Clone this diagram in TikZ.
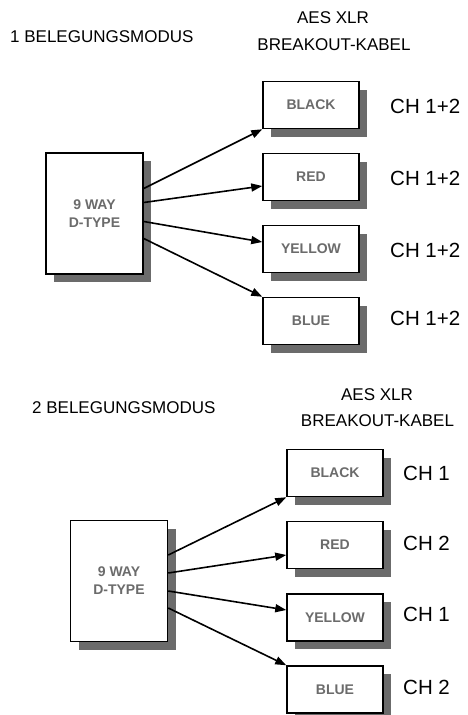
\documentclass[tikz,border=0pt]{standalone}
\usepackage{fontspec}
\setmainfont{Liberation Sans}
\usetikzlibrary{arrows.meta,shadows}

\tikzset{
  cable/.style={draw=black, line width=1.5pt, fill=white, minimum width=96pt, minimum height=47pt,
    inner sep=0pt, font=\fontsize{14}{16}\selectfont\bfseries, text=black!58,
    drop shadow={shadow xshift=8pt, shadow yshift=-8pt, fill=black!58, opacity=1}},
  dtype/.style={cable, minimum width=97pt, minimum height=121pt, align=center,
    font=\fontsize{14}{18}\selectfont\bfseries},
  title/.style={font=\fontsize{17}{20}\selectfont, inner sep=0pt},
  chan/.style={font=\fontsize{20.5}{24}\selectfont, inner sep=0pt, anchor=west},
  wire/.style={line width=1.6pt, -{Triangle[length=11pt,width=8pt]}}
}

\begin{document}
\begin{tikzpicture}[x=1pt,y=-1pt]
\useasboundingbox (0,0) rectangle (467,715);

% ---------- mode 1 ----------
\node[title, anchor=west] (t1) at (10,37) {1 BELEGUNGSMODUS};
\node[title] (h1a) at (333,18) {AES XLR};
\node[title] (h1b) at (334,45) {BREAKOUT-KABEL};

\node[dtype] (d1) at (94.5,213.5) {9 WAY\\D-TYPE};
\node[cable] (k1) at (311,105) {BLACK};
\node[cable] (r1) at (311,177) {RED};
\node[cable] (y1) at (311,249) {YELLOW};
\node[cable] (b1) at (311,321) {BLUE};

\node[chan] (c1k) at (390,106) {CH 1+2};
\node[chan] (c1r) at (390,178) {CH 1+2};
\node[chan] (c1y) at (390,250) {CH 1+2};
\node[chan] (c1b) at (390,318) {CH 1+2};

\draw[wire] ([yshift=25pt]d1.east) -- (k1.south west);
\draw[wire] ([yshift=11pt]d1.east) -- ([yshift=-9pt]r1.west);
\draw[wire] ([yshift=-8pt]d1.east) -- ([yshift=7pt]y1.west);
\draw[wire] ([yshift=-25pt]d1.east) -- (b1.north west);

% ---------- mode 2 ----------
\node[title, anchor=west] (t2) at (32,408) {2 BELEGUNGSMODUS};
\node[title] (h2a) at (377,395) {AES XLR};
\node[title] (h2b) at (377.5,421) {BREAKOUT-KABEL};

\node[dtype] (d2) at (119,581) {9 WAY\\D-TYPE};
\node[cable] (k2) at (335,473) {BLACK};
\node[cable] (r2) at (335,545) {RED};
\node[cable] (y2) at (335,617.5) {YELLOW};
\node[cable] (b2) at (335,689.5) {BLUE};

\node[chan] (c2k) at (403,473) {CH 1};
\node[chan] (c2r) at (403,543) {CH 2};
\node[chan] (c2y) at (403,614) {CH 1};
\node[chan] (c2b) at (403,687) {CH 2};

\draw[wire] ([yshift=26pt]d2.east) -- (k2.south west);
\draw[wire] ([yshift=8pt]d2.east) -- ([yshift=-10pt]r2.west);
\draw[wire] ([yshift=-10pt]d2.east) -- ([yshift=7.5pt]y2.west);
\draw[wire] ([yshift=-27pt]d2.east) -- (b2.north west);
\end{tikzpicture}
\end{document}
